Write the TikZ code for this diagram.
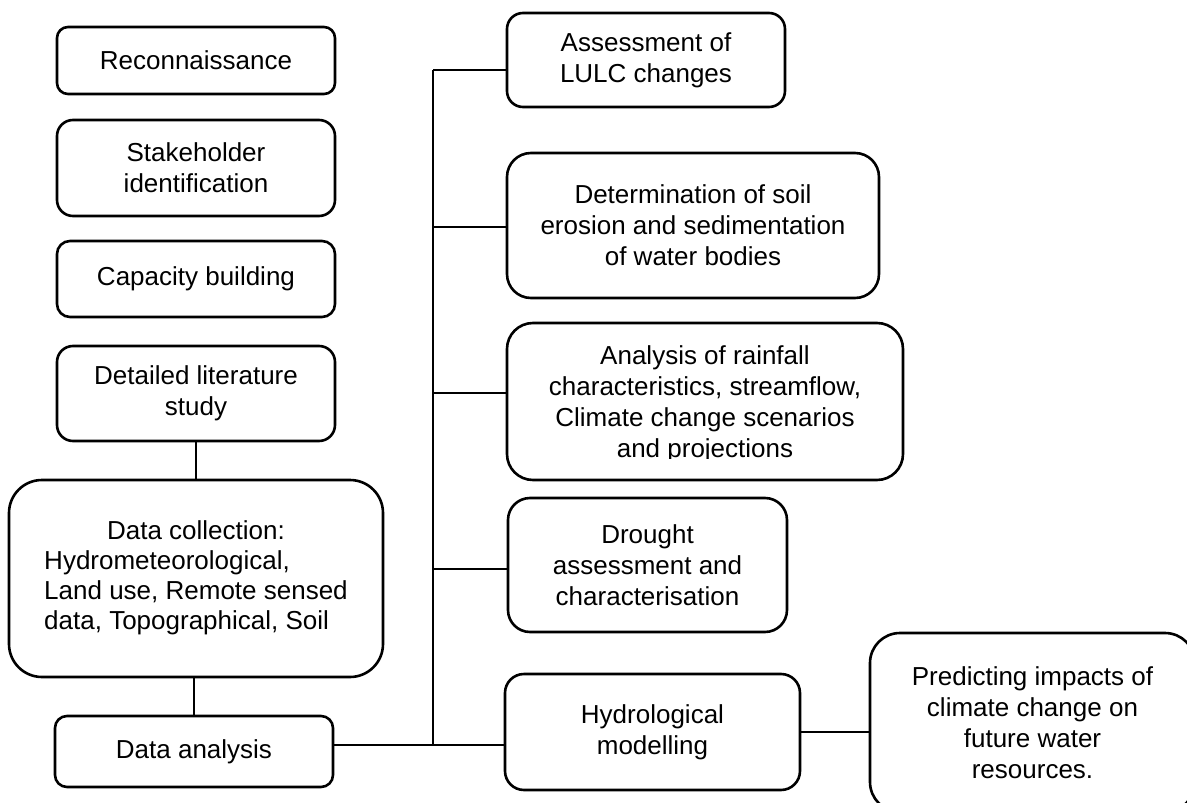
\documentclass[tikz,border=0pt]{standalone}
\usepackage{fontspec}
\setmainfont{Liberation Sans}
\begin{document}
\begin{tikzpicture}[x=1pt,y=-1pt,
  every node/.style={font=\fontsize{26}{31}\selectfont, inner sep=0pt},
  stagebox/.style={draw=black, line width=2.6pt, fill=white, align=center, rectangle},
  link/.style={draw=black, line width=1.3pt}]
\fill[white] (0,0) rectangle (1187,803);
\useasboundingbox (0,0) rectangle (1187,803);
\clip (0,0) rectangle (1187,803);

% left column
\node[stagebox, rounded corners=11pt, minimum width=278pt, minimum height=67pt] (recon) at (196,60.5) {Reconnaissance};
\node[stagebox, rounded corners=16pt, minimum width=278pt, minimum height=96pt] (stake) at (196,168) {Stakeholder\\identification};
\node[stagebox, rounded corners=13pt, minimum width=278pt, minimum height=76pt] (capac) at (196,279) {Capacity building};
\node[stagebox, rounded corners=16pt, minimum width=278pt, minimum height=95pt] (detail) at (196,393.5) {Detailed literature\\study};
\node[stagebox, rounded corners=33pt, minimum width=374pt, minimum height=197pt] (collect) at (196,578.5)
  {\begin{tabular}{@{}l@{}}\multicolumn{1}{@{}c@{}}{Data collection:}\\[-1pt] Hydrometeorological,\\[-1pt] Land use, Remote sensed\\[-1pt] data, Topographical, Soil\end{tabular}};
\node[stagebox, rounded corners=12pt, minimum width=278pt, minimum height=71pt] (analysis) at (194,751.5) {Data analysis};

% right column
\node[stagebox, rounded corners=16pt, minimum width=278pt, minimum height=94pt] (lulc) at (646,60) {Assessment of\\LULC changes};
\node[stagebox, rounded corners=24pt, minimum width=372pt, minimum height=145pt] (erosion) at (693,225.5) {Determination of soil\\erosion and sedimentation\\of water bodies};
\node[stagebox, rounded corners=26pt, minimum width=396pt, minimum height=157pt] (rain) at (705,401.5) {};
\begin{scope}
  \clip (507,323) rectangle (903,458);
  \node[align=center] (raintext) at (705,404) {Analysis of rainfall\\characteristics, streamflow,\\Climate change scenarios\\and projections};
\end{scope}
\node[stagebox, rounded corners=22pt, minimum width=279pt, minimum height=134pt] (drought) at (647.5,565) {Drought\\assessment and\\characterisation};
\node[stagebox, rounded corners=19pt, minimum width=295pt, minimum height=116pt] (hydro) at (652.5,732) {Hydrological\\modelling};
\node[stagebox, rounded corners=30pt, minimum width=325pt, minimum height=179pt] (predict) at (1032.5,722.5) {Predicting impacts of\\climate change on\\future water\\resources.};

% connectors
\coordinate (bustop) at (433,70);
\coordinate (bus) at (433,745);
\draw[link] (detail.south) -- (detail.south |- collect.north);
\draw[link] (analysis.north) -- (analysis.north |- collect.south);
\draw[link] (bus -| analysis.east) -- (bus) -- (bus -| hydro.west);
\draw[link] (bustop) -- (bus);
\draw[link] (bustop) -- (bustop -| lulc.west);
\draw[link] (433,227) -- (erosion.west |- 433,227);
\draw[link] (433,393) -- (rain.west |- 433,393);
\draw[link] (433,569) -- (drought.west |- 433,569);
\draw[link] (hydro.east) -- (predict.west |- hydro.east);
\end{tikzpicture}
\end{document}
